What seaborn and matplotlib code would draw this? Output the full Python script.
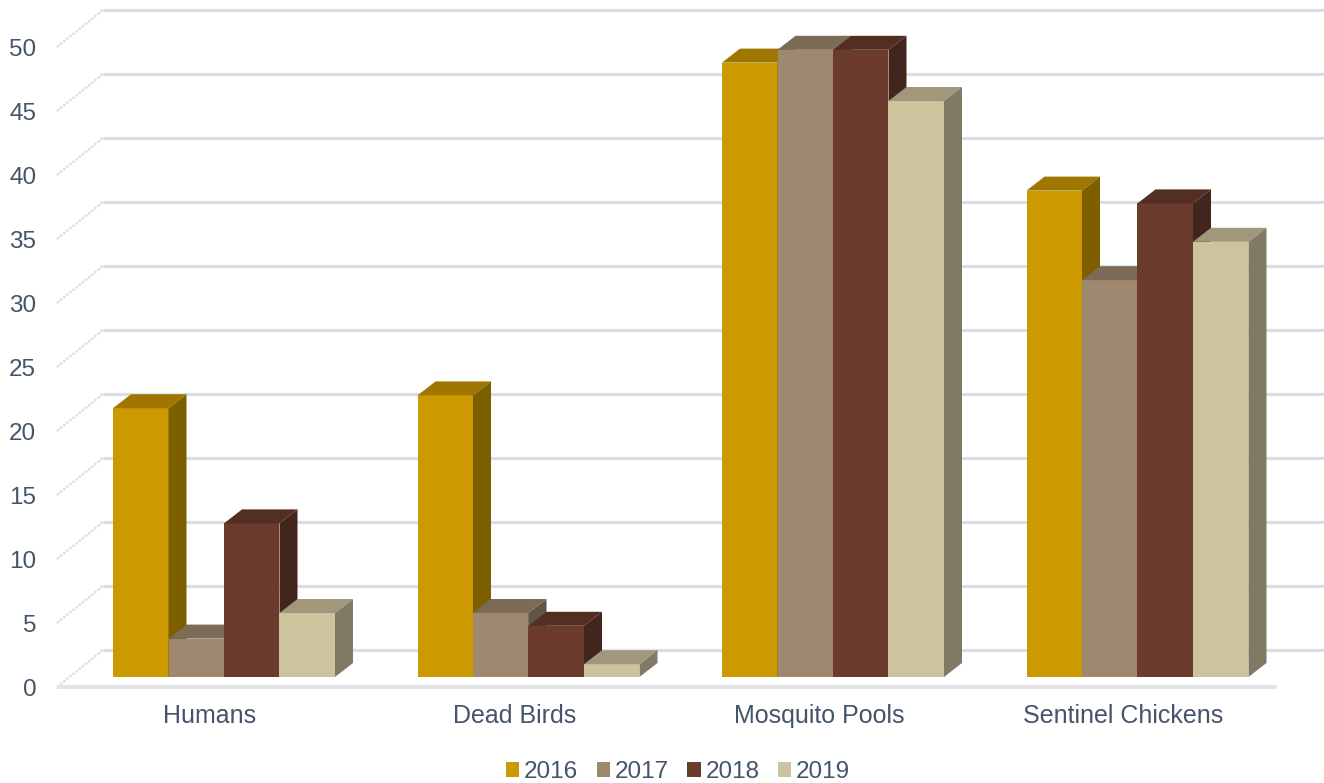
import numpy as np
import pandas as pd
import matplotlib
matplotlib.use("Agg")
import matplotlib.pyplot as plt
from matplotlib.patches import Polygon, Patch
from matplotlib.transforms import ScaledTranslation
import matplotlib.colors as mcolors
import seaborn as sns

# ---- data ----
categories = ["Humans", "Dead Birds", "Mosquito Pools", "Sentinel Chickens"]
years = ["2016", "2017", "2018", "2019"]
v2016 = [21, 22, 48, 38]
v2017 = [3, 5, 49, 31]
v2018 = [12, 4, 49, 37]
v2019 = [5, 1, 45, 34]
colors = ["#CC9900", "#9E8970", "#6B3C2D", "#CEC39F"]
yticks = [0, 5, 10, 15, 20, 25, 30, 35, 40, 45, 50]

rows = []
for yr, vals in zip(years, [v2016, v2017, v2018, v2019]):
    for c, v in zip(categories, vals):
        rows.append({"category": c, "year": yr, "value": v})
df = pd.DataFrame(rows)

sns.set_theme(style="white")
plt.rcParams["font.family"] = ["Liberation Sans", "DejaVu Sans"]
TXT = "#44546A"
GRID = "#E1E3E9"

W, H = 1324, 783
fig = plt.figure(figsize=(W / 100, H / 100), dpi=100)
fig.patch.set_facecolor("white")

# pixel geometry helpers
px_per_cat = 304.5
px_per_unit = 12.8
ax_left_px, floor_px = 57, 687
ax = fig.add_axes([ax_left_px / W, (H - floor_px) / H, 1 - ax_left_px / W, floor_px / H])
front_off = -(floor_px - 677) / px_per_unit       # front edge offset (units)
x_left = (ax_left_px - 224) / px_per_cat

sns.barplot(data=df, x="category", y="value", hue="year", palette=colors,
            width=0.729, gap=0, dodge=True, saturation=1, legend=False,
            linewidth=0, ax=ax)
ax.set_xlim(x_left, (W - 224) / px_per_cat)
ax.set_ylim(front_off, 677 / px_per_unit)

# 3-D depth offsets
dx = 18 / px_per_cat
dy = 14 / px_per_unit
back_dx = (103 - 57) / px_per_cat
back_dy = (677 - 650) / px_per_unit

# back wall gridlines and side wall diagonals
xr = (W - 224) / px_per_cat + 0.1
x_floor_end = (1277 - 224) / px_per_cat
for v in yticks:
    ax.plot([x_left + back_dx, xr], [v + back_dy, v + back_dy], color=GRID,
            lw=2.4, zorder=1, solid_capstyle="butt", clip_on=True)
    ax.plot([x_left + back_dx, xr], [v + back_dy, v + back_dy], color="#D4D7DE",
            lw=0.7, zorder=1, solid_capstyle="butt", clip_on=True)
    ax.plot([x_left, x_left + back_dx], [v + front_off, v + back_dy], color="#DADDE3",
            lw=1.6, ls=(0, (1.2, 0.6)), zorder=1, clip_on=False)
ax.plot([x_left, x_floor_end], [front_off, front_off], color=GRID, lw=2.8,
        zorder=1, clip_on=False, solid_capstyle="butt")

# faces for each bar
def shade(c, f):
    r, g, b = mcolors.to_rgb(c)
    return (r * f, g * f, b * f)

bars = sorted([p for p in ax.patches], key=lambda p: p.get_x())
for k, p in enumerate(bars):
    x0 = p.get_x()
    w = p.get_width()
    h = p.get_height()
    fc = p.get_facecolor()
    z = 3 + 3 * k
    p.set_zorder(z)
    top = Polygon([(x0, h), (x0 + w, h), (x0 + w + dx, h + dy), (x0 + dx, h + dy)],
                  closed=True, facecolor=shade(fc, 0.78), edgecolor="none", zorder=z + 1)
    side = Polygon([(x0 + w, 0), (x0 + w + dx, dy), (x0 + w + dx, h + dy), (x0 + w, h)],
                   closed=True, facecolor=shade(fc, 0.62), edgecolor="none", zorder=z + 2)
    ax.add_patch(top)
    ax.add_patch(side)

for s in ax.spines.values():
    s.set_visible(False)
ax.set_xlabel("")
ax.set_ylabel("")
ax.set_yticks(yticks)
ax.set_yticklabels([str(v) for v in yticks])
ax.tick_params(axis="y", length=0, pad=15, labelsize=17.5, labelcolor=TXT)
ax.tick_params(axis="x", length=0, pad=12, labelsize=18, labelcolor=TXT)
for lbl in ax.get_yticklabels():
    lbl.set_transform(lbl.get_transform() + ScaledTranslation(0, -10 / 100, fig.dpi_scale_trans))
for lbl in ax.get_xticklabels():
    lbl.set_transform(lbl.get_transform() + ScaledTranslation(-14 / 100, 0, fig.dpi_scale_trans))
ax.grid(False)
ax.set_facecolor("white")

handles = [Patch(facecolor=c, edgecolor="none", label=y) for c, y in zip(colors, years)]
leg = fig.legend(handles=handles, loc="center", bbox_to_anchor=(678 / W, 1 - 772 / H),
                 ncol=4, frameon=False, fontsize=17.5, handlelength=0.55, handleheight=0.55,
                 handletextpad=0.2, columnspacing=0.75, borderpad=0)
for t in leg.get_texts():
    t.set_color(TXT)

fig.savefig("out.png", dpi=100, facecolor="white")
